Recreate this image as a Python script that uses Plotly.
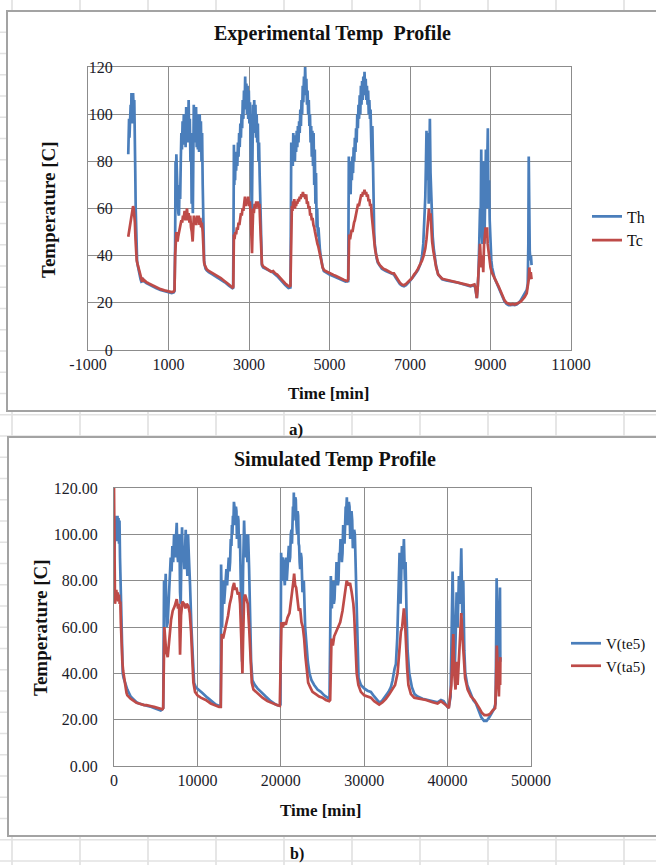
import plotly.graph_objects as go

# ---- experimental profile (time [min], temperature [C]) ----
th_points = [
    (0, 83), (10, 92), (20, 98), (30, 90), (40, 100), (50, 94), (60, 104), (70, 97), (80, 109), (90, 100),
    (100, 108), (110, 96), (120, 109), (135, 102), (150, 106), (165, 95), (175, 75), (185, 60), (195, 48),
    (205, 41), (220, 37.5), (240, 35.5), (260, 33.5), (285, 31.5), (305, 30), (325, 29), (350, 29.2),
    (370, 29.8), (400, 29), (450, 28.4), (500, 27.9), (600, 27), (700, 26.2), (800, 25.4), (900, 24.9),
    (1000, 24.4), (1080, 24.1), (1130, 24.4), (1150, 25),
    (1165, 45), (1175, 80), (1185, 70), (1195, 83), (1205, 74), (1215, 78), (1230, 63), (1245, 58),
    (1260, 57), (1275, 70), (1290, 64), (1305, 80), (1320, 92), (1335, 85), (1350, 97), (1365, 87),
    (1380, 100), (1395, 90), (1410, 98), (1425, 86), (1440, 103), (1455, 92), (1470, 100), (1485, 88),
    (1500, 106), (1515, 90), (1530, 98), (1545, 80), (1560, 92), (1575, 62), (1590, 70), (1605, 58),
    (1615, 85), (1628, 104), (1640, 88), (1655, 100), (1670, 92), (1685, 103), (1700, 86), (1715, 100),
    (1730, 85), (1745, 97), (1760, 84), (1775, 100), (1790, 88), (1805, 97), (1820, 80), (1835, 92),
    (1850, 70), (1860, 55), (1870, 44), (1885, 38), (1900, 36), (1920, 34.5), (1950, 33.8), (2000, 33),
    (2100, 32), (2200, 31), (2300, 30), (2400, 28.7), (2500, 27.3), (2570, 26.3), (2605, 26),
    (2615, 50), (2625, 87), (2635, 70), (2645, 78), (2655, 72), (2665, 82), (2680, 76), (2695, 84),
    (2710, 78), (2725, 88), (2740, 82), (2755, 92), (2770, 86), (2785, 96), (2800, 90), (2815, 100),
    (2830, 94), (2845, 106), (2860, 98), (2875, 110), (2890, 102), (2905, 116), (2920, 104), (2935, 113),
    (2950, 100), (2965, 112), (2980, 98), (2995, 110), (3010, 96), (3025, 105), (3040, 90), (3055, 70),
    (3070, 55), (3085, 80), (3100, 104), (3115, 92), (3130, 106), (3145, 96), (3160, 104), (3175, 90),
    (3190, 100), (3205, 88), (3220, 96), (3235, 80), (3250, 88), (3265, 74), (3280, 60), (3292, 45),
    (3305, 38), (3320, 36), (3350, 35), (3400, 34.5), (3500, 33.5), (3600, 32.8), (3700, 31.3),
    (3800, 29.3), (3900, 27.5), (3980, 26.3), (4030, 26.5),
    (4040, 55), (4050, 88), (4062, 80), (4075, 86), (4088, 78), (4100, 92), (4112, 82), (4125, 88),
    (4140, 80), (4155, 91), (4170, 84), (4185, 93), (4200, 86), (4215, 95), (4230, 88), (4245, 97),
    (4260, 92), (4275, 102), (4290, 95), (4305, 106), (4320, 100), (4335, 112), (4350, 105), (4365, 116),
    (4380, 108), (4395, 120), (4410, 110), (4425, 115), (4440, 104), (4455, 110), (4470, 100), (4485, 106),
    (4500, 95), (4515, 100), (4530, 88), (4545, 95), (4560, 82), (4575, 93), (4590, 78), (4605, 92),
    (4620, 70), (4635, 85), (4650, 62), (4665, 75), (4680, 52), (4695, 60), (4710, 48), (4725, 52),
    (4740, 45), (4760, 43), (4780, 40), (4800, 37.5), (4830, 35), (4860, 33.5), (4900, 33), (5000, 32),
    (5100, 31.3), (5200, 30.5), (5300, 29.5), (5400, 29), (5465, 29.2),
    (5470, 45), (5480, 82), (5495, 68), (5510, 78), (5525, 66), (5540, 80), (5555, 72), (5570, 82),
    (5585, 75), (5600, 86), (5615, 80), (5630, 90), (5645, 84), (5660, 94), (5675, 88), (5690, 100),
    (5705, 94), (5720, 104), (5735, 98), (5750, 108), (5765, 100), (5780, 112), (5795, 104), (5810, 114),
    (5825, 106), (5840, 116), (5855, 108), (5870, 118), (5885, 110), (5900, 115), (5915, 106), (5930, 112),
    (5945, 104), (5960, 110), (5975, 100), (5990, 106), (6005, 98), (6020, 102), (6035, 90), (6050, 80),
    (6065, 95), (6080, 70), (6095, 60), (6110, 50), (6125, 45), (6145, 42), (6170, 39), (6200, 37),
    (6250, 35.5), (6300, 34.5), (6400, 33.5), (6500, 32.6), (6600, 32), (6650, 30.5), (6700, 29),
    (6750, 28), (6800, 27.3), (6850, 27), (6900, 27.5), (6950, 28.3), (7000, 29.3), (7100, 31.5),
    (7200, 34), (7260, 36.5), (7300, 40), (7330, 45), (7360, 55), (7380, 65), (7395, 78), (7410, 93),
    (7425, 72), (7440, 88), (7452, 92), (7465, 62), (7480, 80), (7494, 98), (7510, 75), (7525, 66),
    (7545, 55), (7565, 48), (7590, 43), (7615, 40), (7645, 36), (7700, 32), (7750, 30.8), (7800, 30),
    (7900, 29.5), (8000, 29.2), (8100, 29), (8200, 28.5), (8300, 28), (8400, 27.5), (8500, 27),
    (8550, 27.3), (8600, 27.5), (8625, 26), (8640, 23.5), (8660, 22), (8680, 26), (8700, 32), (8720, 45),
    (8740, 60), (8755, 50), (8770, 85), (8785, 50), (8800, 45), (8815, 62), (8835, 80), (8850, 45),
    (8865, 70), (8885, 85), (8900, 60), (8915, 75), (8934, 94), (8950, 60), (8965, 72), (8980, 55),
    (9000, 45), (9020, 38), (9040, 35), (9060, 33), (9100, 30.5), (9150, 28.5), (9200, 26.5),
    (9250, 24.5), (9300, 22.5), (9350, 20.5), (9400, 19.5), (9450, 19), (9500, 19), (9550, 19.2),
    (9600, 19), (9650, 19.3), (9700, 20), (9750, 21), (9800, 22.5), (9850, 24), (9900, 25.5),
    (9925, 28), (9940, 45), (9950, 82), (9962, 50), (9975, 42), (9990, 38), (10005, 40), (10020, 36),
]

tc_points = [
    (0, 48), (20, 50), (40, 53), (60, 55), (80, 57), (100, 58), (120, 61), (135, 60), (150, 58),
    (165, 54), (180, 47), (195, 41), (210, 38), (230, 36.5), (250, 35), (275, 33.5), (300, 31),
    (320, 29.5), (345, 29), (370, 30), (400, 29.5), (450, 28.8), (500, 28.3), (600, 27.4), (700, 26.6),
    (800, 25.8), (900, 25.3), (1000, 24.9), (1080, 24.6), (1130, 24.8), (1150, 25.5),
    (1165, 40), (1180, 49), (1195, 50), (1210, 47), (1225, 46), (1240, 48), (1260, 50), (1280, 51),
    (1300, 53), (1320, 55), (1340, 54), (1360, 57), (1380, 56), (1400, 59), (1420, 55), (1440, 58),
    (1460, 60), (1480, 55), (1500, 58), (1520, 54), (1540, 57), (1560, 52), (1580, 50), (1600, 46),
    (1615, 50), (1630, 57), (1650, 54), (1670, 56), (1690, 53), (1710, 57), (1730, 54), (1750, 57),
    (1770, 53), (1790, 56), (1810, 52), (1830, 54), (1850, 50), (1860, 45), (1870, 40), (1885, 37),
    (1900, 36), (1920, 35), (1950, 34.2), (2000, 33.5), (2050, 33), (2100, 32.6), (2150, 32.2),
    (2200, 31.5), (2250, 31), (2300, 30.5), (2350, 29.8), (2400, 29.2), (2450, 28.5), (2500, 27.8),
    (2550, 27), (2590, 26.5), (2610, 26.8),
    (2615, 40), (2625, 49), (2640, 47), (2660, 50), (2680, 49), (2700, 52), (2720, 51), (2740, 54),
    (2760, 53), (2780, 56), (2800, 58), (2820, 57), (2840, 60), (2860, 59), (2880, 62), (2900, 65),
    (2920, 61), (2940, 64), (2960, 62), (2980, 65), (3000, 61), (3020, 63), (3040, 58), (3060, 48),
    (3075, 41), (3090, 52), (3105, 60), (3120, 58), (3140, 62), (3160, 60), (3180, 63), (3200, 61),
    (3220, 63), (3240, 60), (3260, 62), (3275, 55), (3290, 45), (3305, 38), (3320, 36.5), (3350, 35.5),
    (3400, 35), (3450, 34.5), (3500, 34), (3550, 33.2), (3600, 33.5), (3650, 32.5), (3700, 32),
    (3750, 31), (3800, 30), (3850, 29.2), (3900, 28.2), (3950, 27.5), (4000, 27), (4030, 27.3),
    (4040, 45), (4050, 58), (4065, 61), (4080, 59), (4095, 63), (4110, 61), (4125, 64), (4140, 60),
    (4155, 62), (4170, 61), (4185, 63), (4200, 62), (4220, 64), (4240, 63), (4260, 65), (4280, 64),
    (4300, 66), (4320, 65), (4340, 67), (4360, 65), (4380, 66), (4400, 64), (4420, 66), (4440, 62),
    (4460, 63), (4480, 60), (4500, 61), (4520, 57), (4540, 58), (4560, 55), (4580, 56), (4600, 53),
    (4620, 52), (4640, 50), (4660, 48), (4680, 47), (4700, 45), (4720, 44), (4740, 42), (4760, 41),
    (4780, 39), (4800, 37.5), (4830, 35), (4860, 34), (4900, 33.5), (4950, 33), (5000, 32.5),
    (5050, 32), (5100, 31.8), (5150, 31.5), (5200, 31), (5250, 30.5), (5300, 30), (5350, 29.8),
    (5400, 29.5), (5440, 29.3), (5465, 30),
    (5475, 45), (5490, 49), (5510, 47), (5530, 50), (5550, 51), (5570, 50), (5590, 53), (5610, 54),
    (5630, 55), (5650, 57), (5670, 59), (5690, 60), (5710, 62), (5730, 61), (5750, 63), (5770, 64),
    (5790, 66), (5810, 65), (5830, 67), (5850, 66), (5870, 68), (5890, 66), (5910, 67), (5930, 65),
    (5950, 66), (5970, 63), (5990, 64), (6010, 61), (6030, 62), (6050, 57), (6070, 53), (6090, 48),
    (6110, 45), (6130, 43), (6150, 41), (6170, 39), (6200, 37.5), (6250, 36), (6300, 35), (6350, 34.3),
    (6400, 34), (6450, 33.5), (6500, 33), (6550, 32.6), (6600, 32.5), (6650, 31), (6700, 29.5),
    (6750, 28.5), (6800, 27.8), (6850, 27.5), (6900, 28), (6950, 28.8), (7000, 29.8), (7050, 30.5),
    (7100, 32), (7150, 33), (7200, 34.5), (7250, 36), (7300, 38), (7340, 40), (7380, 43), (7410, 47),
    (7430, 50), (7450, 55), (7470, 60), (7490, 55), (7510, 58), (7530, 50), (7550, 46), (7580, 42),
    (7610, 39), (7650, 35), (7700, 32), (7750, 31), (7800, 30.2), (7850, 30), (7900, 29.8),
    (7950, 29.5), (8000, 29.5), (8100, 29.2), (8200, 28.8), (8300, 28.3), (8400, 27.8), (8450, 27.5),
    (8500, 27.2), (8550, 27.6), (8600, 27.8), (8625, 26.5), (8640, 24), (8660, 22), (8680, 26),
    (8700, 32), (8720, 40), (8740, 45), (8760, 38), (8780, 35), (8800, 40), (8820, 33), (8840, 45),
    (8860, 48), (8880, 52), (8900, 50), (8915, 52), (8930, 45), (8950, 42), (8970, 38), (9000, 35),
    (9030, 33), (9060, 32), (9100, 30), (9150, 28.5), (9200, 27), (9250, 25), (9300, 23), (9350, 21),
    (9400, 20), (9450, 19.5), (9500, 19.3), (9550, 19.5), (9600, 19.3), (9650, 19.6), (9700, 20),
    (9750, 20.5), (9800, 21.5), (9850, 22.5), (9900, 24), (9930, 27), (9950, 30), (9965, 35),
    (9980, 31), (10000, 33), (10020, 30),
]

# ---- simulated profile (time [min], temperature [C]) ----
te5_points = [
    (0, 90), (60, 100), (120, 95), (180, 106), (240, 100), (300, 108), (360, 97), (420, 108), (480, 99),
    (540, 107), (600, 96), (660, 106), (720, 90), (780, 80), (840, 70), (900, 55), (960, 46), (1050, 40),
    (1150, 38), (1300, 36), (1450, 34), (1600, 33), (1800, 31.5), (2000, 30), (2200, 29.3), (2400, 28.5),
    (2700, 27.5), (3000, 27), (3300, 26.5), (3600, 26.3), (3900, 26), (4200, 25.8), (4500, 25.5),
    (4800, 25), (5100, 24.5), (5400, 24.2), (5600, 24), (5800, 24.5), (5900, 25),
    (6000, 80), (6100, 70), (6200, 83), (6320, 60), (6440, 62), (6600, 75), (6700, 82), (6800, 90),
    (6900, 84), (7000, 95), (7100, 88), (7200, 100), (7320, 90), (7420, 98), (7520, 105), (7600, 92),
    (7680, 88), (7760, 96), (7840, 100), (7920, 75), (8000, 70), (8080, 90), (8160, 103), (8240, 88),
    (8320, 95), (8440, 85), (8520, 96), (8600, 102), (8660, 88), (8720, 90), (8800, 82), (8880, 100),
    (8960, 92), (9000, 85), (9120, 78), (9280, 60), (9440, 45), (9600, 36), (9800, 34), (10080, 33),
    (10600, 31.5), (11200, 29.5), (11800, 27.5), (12200, 26.5), (12600, 26), (12800, 25.8),
    (12840, 87), (12960, 60), (13040, 75), (13120, 80), (13200, 70), (13280, 75), (13380, 82),
    (13480, 85), (13560, 78), (13600, 80), (13680, 88), (13760, 90), (13840, 84), (13920, 88),
    (14000, 98), (14080, 95), (14140, 104), (14200, 100), (14260, 108), (14320, 105), (14380, 114),
    (14440, 112), (14500, 104), (14560, 108), (14620, 112), (14680, 110), (14740, 98), (14800, 100),
    (14860, 108), (14920, 106), (14980, 94), (15040, 95), (15100, 100), (15160, 85), (15280, 60),
    (15360, 45), (15480, 85), (15600, 106), (15680, 96), (15760, 100), (15840, 90), (15920, 95),
    (16000, 88), (16080, 100), (16200, 85), (16320, 65), (16440, 45), (16600, 37), (16880, 35),
    (17200, 33.5), (17600, 32), (18200, 30), (18800, 28), (19400, 26.5), (19800, 26), (19960, 26.5),
    (20040, 92), (20100, 85), (20160, 80), (20240, 90), (20320, 88), (20400, 82), (20480, 78),
    (20560, 86), (20640, 90), (20720, 80), (20800, 84), (20880, 92), (20960, 95), (21040, 88),
    (21120, 90), (21200, 100), (21280, 102), (21340, 96), (21400, 108), (21460, 112), (21520, 106),
    (21560, 118), (21620, 108), (21680, 110), (21740, 116), (21800, 115), (21880, 104), (21960, 100),
    (22020, 110), (22080, 108), (22140, 96), (22200, 95), (22260, 88), (22320, 85), (22400, 92),
    (22480, 90), (22600, 75), (22760, 80), (22920, 60), (23080, 50), (23240, 45), (23440, 40),
    (23680, 37), (24000, 35), (24400, 33), (24800, 32), (25200, 30.5), (25600, 29.5), (25840, 29),
    (26000, 82), (26120, 68), (26200, 75), (26280, 80), (26360, 70), (26440, 72), (26520, 80),
    (26600, 78), (26680, 88), (26760, 85), (26840, 78), (26920, 80), (27000, 92), (27080, 90),
    (27160, 98), (27240, 95), (27320, 88), (27400, 92), (27480, 104), (27560, 100), (27640, 96),
    (27720, 105), (27780, 112), (27840, 110), (27920, 116), (28000, 104), (28080, 108), (28160, 114),
    (28240, 112), (28320, 98), (28400, 102), (28480, 110), (28560, 106), (28640, 94), (28720, 96),
    (28800, 102), (28880, 100), (28960, 88), (29040, 85), (29120, 70), (29200, 50), (29320, 38),
    (29600, 35), (30000, 33.5), (30400, 32.5), (30800, 32), (31200, 30), (31600, 28.5), (31800, 27.5),
    (32120, 28), (32520, 30), (32920, 32), (33200, 34), (33400, 37), (33640, 42), (33800, 44),
    (33960, 55), (34120, 75), (34240, 92), (34360, 70), (34520, 95), (34640, 85), (34760, 98),
    (34880, 80), (34960, 88), (35080, 65), (35200, 50), (35400, 40), (35720, 34), (36040, 31),
    (36400, 30), (37000, 29), (37600, 28.5), (38200, 28), (38800, 27.5), (39200, 28.5), (39520, 28),
    (39880, 26), (40120, 25), (40360, 30), (40600, 84), (40720, 60), (40840, 40), (40960, 55),
    (41080, 75), (41200, 60), (41360, 82), (41480, 70), (41640, 94), (41760, 65), (41880, 80),
    (42000, 50), (42120, 40), (42360, 35), (42680, 32), (43080, 28.5), (43400, 27), (43720, 24),
    (44040, 21), (44360, 19.5), (44680, 19.5), (45000, 21), (45320, 23), (45560, 24.5), (45760, 27),
    (45880, 81), (46000, 55), (46120, 38), (46200, 60), (46280, 77), (46320, 45),
]

ta5_points = [
    (0, 120), (40, 100), (80, 85), (120, 70), (200, 72), (280, 76), (360, 72), (440, 75), (520, 71),
    (600, 74), (680, 70), (760, 71), (820, 62), (880, 55), (940, 49), (1000, 45), (1100, 41), (1200, 38),
    (1300, 35), (1400, 33), (1500, 31.5), (1600, 30.5), (1800, 29.5), (2000, 29), (2200, 28.5),
    (2400, 28), (2700, 27.3), (3000, 27), (3300, 26.5), (3600, 26.3), (3900, 26.3), (4200, 26.2),
    (4500, 25.8), (4800, 25.5), (5100, 25.2), (5400, 25), (5600, 24.7), (5800, 24.5), (5900, 25),
    (6040, 60), (6240, 50), (6440, 47), (6640, 55), (6840, 63), (7040, 67), (7280, 69), (7520, 72),
    (7680, 68), (7800, 70), (7920, 48), (8040, 65), (8200, 71), (8400, 70), (8560, 68), (8720, 70),
    (8920, 69), (9080, 66), (9240, 58), (9400, 45), (9520, 36), (9720, 32), (10000, 30.5),
    (10400, 29.5), (11000, 28.5), (11600, 27), (12200, 26), (12600, 25.5), (12800, 25.5),
    (12920, 57), (13080, 55), (13280, 58), (13480, 62), (13680, 65), (13880, 70), (14080, 73),
    (14240, 77), (14400, 79), (14520, 76), (14680, 77), (14840, 74), (15000, 75), (15120, 70),
    (15240, 55), (15360, 42), (15400, 40), (15480, 55), (15600, 72), (15720, 74), (15880, 72),
    (16040, 70), (16200, 60), (16360, 45), (16520, 36), (16720, 33), (17000, 32), (17400, 30.5),
    (17800, 29.5), (18400, 28), (19000, 27), (19600, 26.2), (19880, 26),
    (20080, 62), (20240, 60), (20400, 62), (20600, 61), (20800, 64), (21040, 66), (21200, 70),
    (21360, 75), (21520, 80), (21600, 83), (21720, 78), (21840, 77), (22000, 72), (22160, 67),
    (22320, 68), (22480, 62), (22640, 60), (22800, 55), (22960, 47), (23120, 40), (23280, 36),
    (23520, 34), (23800, 32), (24200, 31), (24600, 30), (25000, 29.5), (25400, 28.5), (25800, 28),
    (25920, 28.5),
    (26080, 55), (26240, 52), (26400, 56), (26640, 58), (26880, 60), (27120, 62), (27400, 67),
    (27600, 72), (27760, 77), (27900, 80), (28100, 78), (28300, 79), (28500, 75), (28700, 70),
    (28800, 65), (28900, 58), (29000, 48), (29100, 40), (29300, 35), (29600, 32), (30000, 30.5),
    (30400, 30), (30800, 29.5), (31200, 28), (31600, 27), (31800, 26.5), (32200, 27.5), (32600, 29),
    (33000, 31), (33400, 33), (33700, 35), (34000, 40), (34200, 50), (34400, 58), (34550, 60),
    (34760, 68), (34900, 62), (35000, 50), (35150, 42), (35300, 35), (35600, 31), (36000, 29.5),
    (36600, 29), (37400, 28.5), (38200, 27.5), (38800, 27), (39200, 28), (39600, 27), (39900, 26),
    (40150, 25), (40450, 35), (40680, 57), (40800, 40), (40950, 33), (41100, 45), (41200, 35),
    (41450, 55), (41640, 66), (41800, 55), (41950, 45), (42100, 38), (42400, 33), (42800, 30),
    (43200, 28.5), (43500, 27), (43800, 25), (44100, 23), (44400, 22), (44800, 22), (45100, 22.5),
    (45400, 24), (45700, 25), (45800, 35), (45900, 52), (46050, 38), (46150, 30), (46250, 45),
    (46300, 35), (46330, 47),
]

exp_names = ["Th", "Tc"]
sim_names = ["V(te5)", "V(ta5)"]
exp_xticks = [-1000, 1000, 3000, 5000, 7000, 9000, 11000]
sim_xticks = [0, 10000, 20000, 30000, 40000, 50000]
y_ticks = [0, 20, 40, 60, 80, 100, 120]

BLUE = "#4a7ebb"
RED = "#be4b48"
GRID = "#8c8c8c"
SERIF = "Liberation Serif, Times New Roman, serif"
W, H = 656, 865


def px_x(v):
    return v / W


def px_y(v):
    return 1 - v / H


fig = go.Figure()
for pts, name, col in [(th_points, exp_names[0], BLUE), (tc_points, exp_names[1], RED)]:
    t, v = zip(*pts)
    fig.add_trace(go.Scatter(x=t, y=v, mode="lines", name=name, line=dict(color=col, width=2.7),
                             xaxis="x", yaxis="y", legend="legend"))
for pts, name, col in [(te5_points, sim_names[0], BLUE), (ta5_points, sim_names[1], RED)]:
    t, v = zip(*pts)
    fig.add_trace(go.Scatter(x=t, y=v, mode="lines", name=name, line=dict(color=col, width=2.7),
                             xaxis="x2", yaxis="y2", legend="legend2"))

axis_common = dict(showgrid=True, gridcolor=GRID, gridwidth=1, showline=True, linecolor=GRID,
                   linewidth=1, mirror=True, zeroline=False, ticks="", automargin=False,
                   tickfont=dict(family=SERIF, size=16, color="#1c1c2a"))

fig.update_layout(
    xaxis=dict(domain=[px_x(88), px_x(571)], anchor="y", range=[-1000, 11000],
               tickvals=exp_xticks, ticktext=[str(v) for v in exp_xticks], **axis_common),
    yaxis=dict(domain=[px_y(350), px_y(67)], anchor="x", range=[0, 120], tickvals=y_ticks,
               ticktext=[str(v) for v in y_ticks], ticklabelstandoff=-29, **axis_common),
    xaxis2=dict(domain=[px_x(114), px_x(531)], anchor="y2", range=[0, 50000],
                tickvals=sim_xticks, ticktext=[str(v) for v in sim_xticks], **axis_common),
    yaxis2=dict(domain=[px_y(766), px_y(488)], anchor="x2", range=[0, 120], tickvals=y_ticks,
                ticktext=[f"{v:.2f}" for v in y_ticks], ticklabelstandoff=12, **axis_common),
    legend=dict(x=px_x(587), y=px_y(228.5), xanchor="left", yanchor="middle",
                font=dict(family=SERIF, size=16, color="#111"), bgcolor="rgba(0,0,0,0)"),
    legend2=dict(x=px_x(566), y=px_y(654.5), xanchor="left", yanchor="middle",
                 font=dict(family=SERIF, size=15, color="#111"), bgcolor="rgba(0,0,0,0)"),
    width=W, height=H, margin=dict(l=0, r=0, t=0, b=0),
    paper_bgcolor="white", plot_bgcolor="white", showlegend=True,
)

# spreadsheet cells behind the charts, then the two white chart areas
shapes = []
for cx in range(12, W, 68):
    shapes.append(dict(type="line", xref="paper", yref="paper", x0=px_x(cx), x1=px_x(cx), y0=0, y1=1,
                       line=dict(color="#dedede", width=1.5), layer="below"))
for k in range(40):
    ry = 32.3 + 21.25 * k
    shapes.append(dict(type="line", xref="paper", yref="paper", x0=0, x1=1, y0=px_y(ry), y1=px_y(ry),
                       line=dict(color="#e2e2e2", width=1.5), layer="below"))
for top, bottom, left in [(11, 411, 7), (437, 836, 8)]:
    shapes.append(dict(type="rect", xref="paper", yref="paper", x0=px_x(left), x1=1.02,
                       y0=px_y(bottom), y1=px_y(top), fillcolor="white",
                       line=dict(color="#a3a3a3", width=2), layer="below"))
fig.update_layout(shapes=shapes)

bold = dict(family=SERIF, color="#111")
annots = [
    ("<b>Experimental Temp  Profile</b>", 333, 33, 20, 0),
    ("<b>Temperature [C]</b>", 48, 210, 19, -90),
    ("<b>Time [min]</b>", 328, 393, 17, 0),
    ("<b>a)</b>", 296, 429, 17, 0),
    ("<b>Simulated Temp Profile</b>", 335, 459, 20, 0),
    ("<b>Temperature [C]</b>", 40, 628, 19, -90),
    ("<b>Time [min]</b>", 320, 810, 17, 0),
    ("<b>b)</b>", 297, 854, 16, 0),
]
for text, ax_, ay_, size, ang in annots:
    fig.add_annotation(text=text, xref="paper", yref="paper", x=px_x(ax_), y=px_y(ay_),
                       xanchor="center", yanchor="middle", showarrow=False, textangle=ang,
                       font=dict(size=size, **bold))

# the page's default body margin would push the 656x865 figure off the window
fig.write_html("out.html", config={"displayModeBar": False},
               post_script="document.body.style.margin = '0';")
